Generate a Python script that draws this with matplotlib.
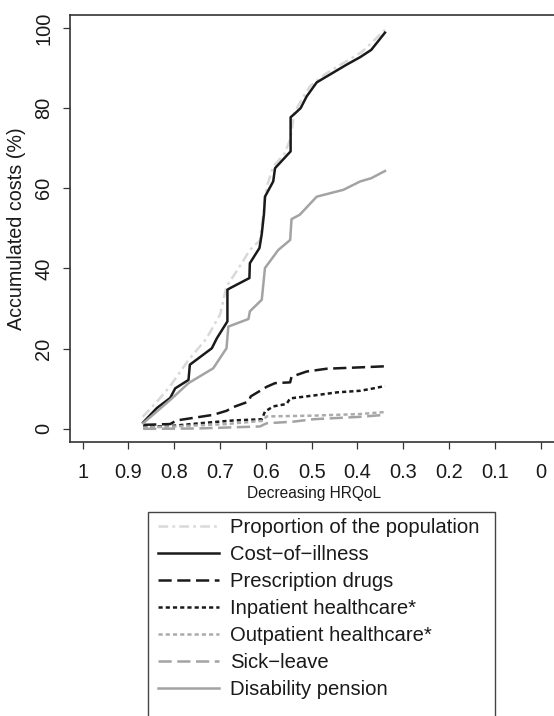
import matplotlib
matplotlib.use("Agg")
import matplotlib.pyplot as plt
from matplotlib.patches import Rectangle

plt.rcParams['font.family'] = ['Liberation Sans', 'DejaVu Sans']
plt.rcParams['lines.scale_dashes'] = False

# ---- data (x = HRQoL, y = accumulated costs %) ----
prop_x = [0.869, 0.84, 0.81, 0.77, 0.73, 0.70, 0.686, 0.66, 0.635, 0.613, 0.598, 0.584, 0.56, 0.547, 0.538, 0.52, 0.504, 0.47, 0.431, 0.39, 0.34]
prop_y = [3.0, 6.5, 10.5, 17.0, 22.5, 28.5, 35.5, 40.0, 44.6, 47.0, 60.4, 65.4, 68.5, 72.1, 78.8, 82.5, 85.4, 88.5, 91.2, 94.0, 99.5]

coi_x = [0.868, 0.838, 0.809, 0.798, 0.769, 0.766, 0.718, 0.707, 0.684, 0.684, 0.678, 0.636, 0.635, 0.614, 0.609, 0.604, 0.602, 0.584, 0.580, 0.546, 0.546, 0.536, 0.524, 0.511, 0.489, 0.424, 0.394, 0.37, 0.34]
coi_y = [1.6, 5.2, 7.7, 10.1, 12.2, 16.0, 20.1, 22.6, 26.8, 34.7, 35.1, 37.6, 41.3, 45.1, 48.6, 53.8, 57.9, 61.7, 65.0, 69.2, 77.7, 78.7, 80.0, 82.9, 86.4, 90.8, 92.7, 94.5, 98.8]

drug_x = [0.868, 0.809, 0.795, 0.715, 0.686, 0.667, 0.638, 0.633, 0.598, 0.580, 0.547, 0.544, 0.511, 0.467, 0.402, 0.34]
drug_y = [1.0, 1.2, 2.1, 3.5, 4.5, 5.6, 6.8, 8.1, 10.5, 11.4, 11.6, 13.0, 14.3, 15.0, 15.3, 15.6]

inp_x = [0.868, 0.809, 0.744, 0.671, 0.609, 0.602, 0.584, 0.555, 0.547, 0.497, 0.445, 0.394, 0.36, 0.34]
inp_y = [0.5, 0.7, 1.4, 2.1, 2.4, 4.3, 5.6, 6.2, 7.6, 8.3, 9.1, 9.5, 10.2, 10.7]

outp_x = [0.868, 0.80, 0.686, 0.609, 0.598, 0.497, 0.394, 0.34]
outp_y = [0.3, 0.6, 1.2, 2.0, 3.1, 3.3, 3.7, 4.2]

sick_x = [0.868, 0.75, 0.613, 0.598, 0.540, 0.497, 0.394, 0.34]
sick_y = [0.0, 0.1, 0.6, 1.4, 1.8, 2.4, 3.0, 3.5]

dis_x = [0.868, 0.809, 0.769, 0.715, 0.686, 0.682, 0.638, 0.635, 0.609, 0.602, 0.573, 0.547, 0.544, 0.526, 0.489, 0.431, 0.394, 0.37, 0.34]
dis_y = [1.4, 7.2, 11.4, 15.1, 20.1, 25.5, 27.4, 29.3, 32.2, 40.1, 44.6, 47.1, 52.3, 53.4, 57.9, 59.6, 61.7, 62.5, 64.3]

labels = ["Proportion of the population", "Cost\u2212of\u2212illness", "Prescription drugs",
          "Inpatient healthcare*", "Outpatient healthcare*", "Sick\u2212leave", "Disability pension"]
xticks = [1, 0.9, 0.8, 0.7, 0.6, 0.5, 0.4, 0.3, 0.2, 0.1, 0]
xticklabels = ["1", "0.9", "0.8", "0.7", "0.6", "0.5", "0.4", "0.3", "0.2", "0.1", "0"]
yticks = [0, 20, 40, 60, 80, 100]

W, H = 554, 716
fig = plt.figure(figsize=(W / 100, H / 100), dpi=100)
ax = fig.add_axes([70 / W, 1 - 441.7 / H, (559 - 70) / W, (441.7 - 15) / H])

black = '#1a1a1a'
lw = 1.8
ax.plot(prop_x, prop_y, color='#d9d9d9', lw=lw, linestyle=(0, (7, 3, 2, 3)))
ax.plot(coi_x, coi_y, color=black, lw=lw)
ax.plot(drug_x, drug_y, color=black, lw=lw, linestyle=(0, (9.5, 4)))
ax.plot(inp_x, inp_y, color=black, lw=lw, linestyle=(0, (3, 2.2)))
ax.plot(outp_x, outp_y, color='#ababab', lw=lw, linestyle=(0, (3, 2.2)))
ax.plot(sick_x, sick_y, color='#a3a3a3', lw=lw, linestyle=(0, (9.5, 4)))
ax.plot(dis_x, dis_y, color='#a3a3a3', lw=lw)

ax.set_xlim(1.0277, -0.04)
ax.set_ylim(-3.2, 103.2)
ax.set_xticks(xticks)
ax.set_xticklabels(xticklabels)
ax.set_yticks(yticks)
ax.set_yticklabels([str(v) for v in yticks], rotation=90, va='center')
ax.tick_params(axis='both', length=5, width=0.9, color='#333333', labelsize=14.4, labelcolor='#1a1a1a')
ax.tick_params(axis='x', pad=10)
ax.tick_params(axis='y', pad=7)
for s in ['left', 'bottom', 'top']:
    ax.spines[s].set_color('#333333')
    ax.spines[s].set_linewidth(1.2)
ax.spines['right'].set_visible(False)

ax.set_xlabel("Decreasing HRQoL", fontsize=11.2, color='#1a1a1a', labelpad=3)
ax.set_ylabel("Accumulated costs (%)", fontsize=14.2, color='#1a1a1a', labelpad=6)

handles = ax.get_lines()
leg = fig.legend(handles, labels, loc='upper left',
                 bbox_to_anchor=(152 / W, 1 - 511.7 / H), bbox_transform=fig.transFigure,
                 frameon=False, fontsize=14.6, handlelength=3, handletextpad=0.55,
                 labelspacing=0.40, borderpad=0.3, borderaxespad=0)
for t in leg.get_texts():
    t.set_color('#1a1a1a')

rect = Rectangle((148 / W, -0.01), (495 - 148) / W, (1 - 511.7 / H) + 0.01,
                 transform=fig.transFigure, fill=False, edgecolor='#444444', lw=1.0)
fig.patches.append(rect)

fig.savefig("out.png", dpi=100)
